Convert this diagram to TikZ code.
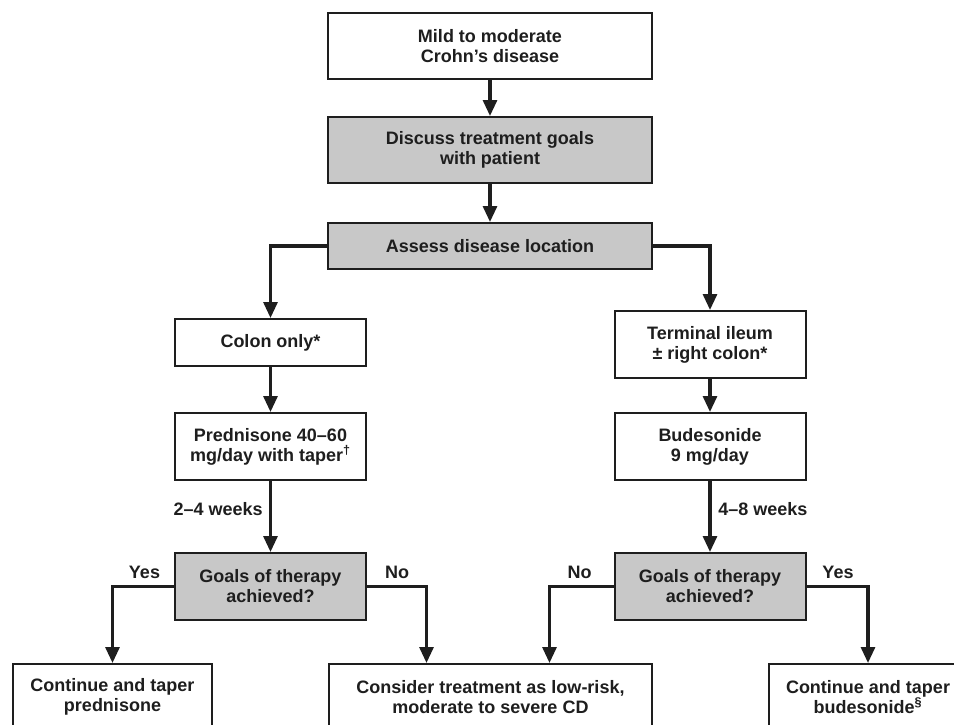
\documentclass[tikz,border=0pt]{standalone}
\usepackage{fontspec}
\setmainfont{Liberation Sans}
\usetikzlibrary{arrows.meta}
\definecolor{ink}{HTML}{1E1E1E}
\definecolor{boxgray}{HTML}{C8C8C8}
\tikzset{
  box/.style={draw=ink, line width=1.5pt, fill=white, align=center, text=ink,
    font=\fontsize{13.5pt}{15pt}\selectfont\bfseries, inner sep=0pt},
  graybox/.style={box, fill=boxgray},
  wide/.style={minimum width=243pt},
  narrow/.style={minimum width=143.25pt},
  bottom/.style={minimum width=149.25pt, minimum height=49.5pt},
  tall/.style={minimum height=50.25pt},
  short/.style={minimum height=35.25pt},
  arr/.style={draw=ink, line width=2.3pt, -{Triangle[width=10.5pt,length=12pt]}},
  lbl/.style={text=ink, font=\fontsize{13.5pt}{15pt}\selectfont\bfseries, inner sep=0pt}
}
\begin{document}
\begin{tikzpicture}[x=0.75pt, y=-0.75pt]
\useasboundingbox (0,0) rectangle (954,725);
\clip (0,0) rectangle (954,725);
\node[box, wide, minimum height=49.5pt] (mild) at (490,46) {Mild to moderate\\Crohn’s disease};
\node[graybox, wide, minimum height=49.5pt] (discuss) at (490,150) {Discuss treatment goals\\with patient};
\node[graybox, wide, minimum height=34.5pt] (assess) at (490,246) {Assess disease location};
\node[box, narrow, short] (colon) at (270.5,342.5) {Colon only*};
\node[box, narrow, tall] (pred) at (270.5,446.5) {Prednisone 40–60\\mg/day with taper\textsuperscript{†}};
\node[graybox, narrow, tall] (goalsL) at (270.5,586.5) {Goals of therapy\\achieved?};
\node[box, narrow, tall] (term) at (710,344.5) {Terminal ileum\\± right colon*};
\node[box, narrow, tall] (bud) at (710,446.5) {Budesonide\\9 mg/day};
\node[graybox, narrow, tall] (goalsR) at (710,586.5) {Goals of therapy\\achieved?};
\node[box, bottom] (contL) at (112.5,697) {Continue and taper\\prednisone};
\node[box, minimum width=242.25pt, minimum height=49.5pt] (consider) at (490.5,697) {Consider treatment as low-risk,\\moderate to severe CD};
\node[box, bottom] (contR) at (868,697) {Continue and taper\\budesonide\textsuperscript{§}};
\draw[arr] (mild) -- (discuss);
\draw[arr] (discuss) -- (assess);
\draw[arr] (assess.west) -| (colon.north);
\draw[arr] (assess.east) -| (term.north);
\draw[arr] (colon) -- (pred);
\draw[arr] (term) -- (bud);
\draw[arr] (pred) -- (goalsL);
\draw[arr] (bud) -- (goalsR);
\draw[arr] (goalsL.west) -| (contL.north);
\draw[arr] (goalsL.east) -| ([xshift=-48pt]consider.north);
\draw[arr] (goalsR.west) -| ([xshift=44.25pt]consider.north);
\draw[arr] (goalsR.east) -| (contR.north);
\node[lbl, anchor=east] (w1) at (263,509) {2–4 weeks};
\node[lbl, anchor=west] (w2) at (718,509) {4–8 weeks};
\node[lbl] (y1) at (144.5,572) {Yes};
\node[lbl] (n1) at (397,572) {No};
\node[lbl] (n2) at (579.5,572) {No};
\node[lbl] (y2) at (838,572) {Yes};
\end{tikzpicture}
\end{document}
